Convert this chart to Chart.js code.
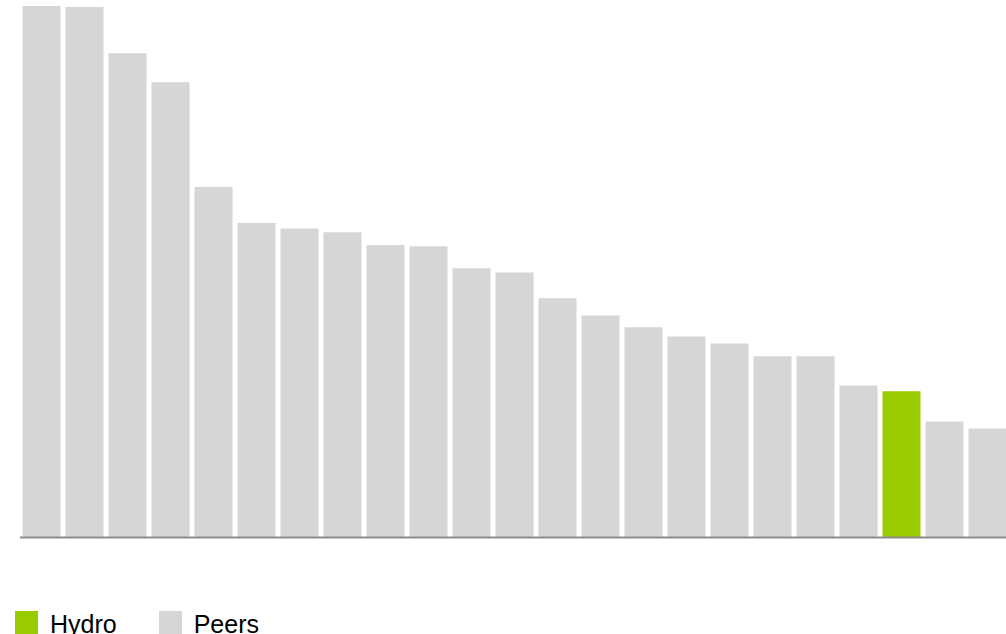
<!DOCTYPE html>
<html>
<head>
<meta charset="utf-8">
<script src="https://cdn.jsdelivr.net/npm/chart.js@4/dist/chart.umd.min.js"></script>
<style>
  html, body { margin: 0; padding: 0; background: #fff; overflow: hidden; width: 1006px; height: 634px; }
  #wrap { position: absolute; left: 0; top: 0; width: 1009px; height: 540px; }
  #legend { position: absolute; left: 15px; top: 610px; font-family: "Liberation Sans", Arial, sans-serif; font-size: 25px; color: #000; white-space: nowrap; }
  .item { display: inline-block; position: relative; padding-left: 35px; height: 23px; line-height: 26px; }
  .item + .item { margin-left: 42px; }
  .sw { position: absolute; left: 0; top: 0; width: 23px; height: 23px; }
</style>
</head>
<body>
<div id="wrap"><canvas id="c"></canvas></div>
<div id="legend"></div>
<script>
// Company ranking, highest to lowest
const categories = ["P1","P2","P3","P4","P5","P6","P7","P8","P9","P10","P11","P12","P13","P14","P15","P16","P17","P18","P19","P20","Hydro","P22","P23"];
const values = [98.9, 98.7, 90.1, 84.7, 65.2, 58.5, 57.5, 56.8, 54.4, 54.2, 50.1, 49.3, 44.5, 41.3, 39.1, 37.4, 36.1, 33.7, 33.7, 28.3, 27.2, 21.6, 20.3];
const seriesNames = ["Hydro", "Peers"];
const seriesColors = ["#99cc00", "#d6d6d6"];
const highlight = "Hydro";

const barColors = categories.map(c => c === highlight ? seriesColors[0] : seriesColors[1]);

// Baseline drawn across the bottom of the plot area
const baseline = {
  id: 'baseline',
  afterDatasetsDraw(chart) {
    const { ctx, chartArea } = chart;
    ctx.save();
    ctx.strokeStyle = '#8c8c8c';
    ctx.lineWidth = 2;
    ctx.beginPath();
    ctx.moveTo(chartArea.left, chartArea.bottom);
    ctx.lineTo(chartArea.right, chartArea.bottom);
    ctx.stroke();
    ctx.restore();
  }
};

new Chart(document.getElementById('c'), {
  type: 'bar',
  data: {
    labels: categories,
    datasets: [{
      data: values,
      backgroundColor: barColors,
      borderWidth: 0,
      barPercentage: 38 / 43,
      categoryPercentage: 1
    }]
  },
  options: {
    responsive: true,
    maintainAspectRatio: false,
    animation: false,
    layout: { padding: { left: 20, right: 0, top: 0, bottom: 2.5 } },
    plugins: { legend: { display: false }, tooltip: { enabled: false } },
    scales: {
      x: { display: false },
      y: { display: false, min: 0, max: 100 }
    }
  },
  plugins: [baseline]
});

const legend = document.getElementById('legend');
seriesNames.forEach((name, i) => {
  const item = document.createElement('span');
  item.className = 'item';
  const sw = document.createElement('span');
  sw.className = 'sw';
  sw.style.background = seriesColors[i];
  item.appendChild(sw);
  item.appendChild(document.createTextNode(name));
  legend.appendChild(item);
});
</script>
</body>
</html>
